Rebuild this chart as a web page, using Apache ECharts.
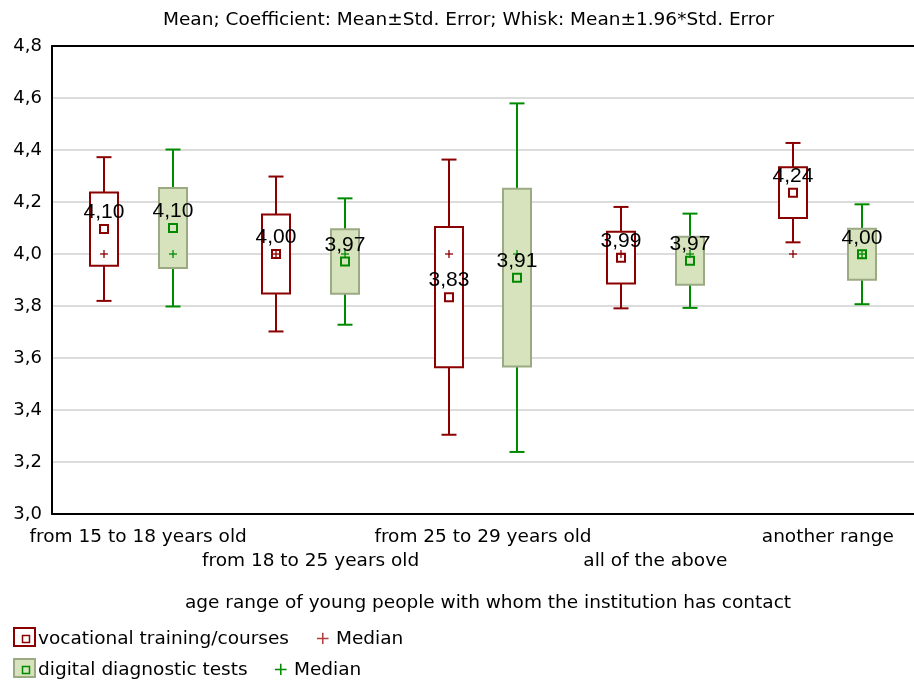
<!DOCTYPE html>
<html>
<head>
<meta charset="utf-8">
<script src="https://cdn.jsdelivr.net/npm/echarts@6/dist/echarts.min.js"></script>
<style>
  html, body { margin: 0; padding: 0; background: #fff; }
  #chart { width: 914px; height: 684px; }
</style>
</head>
<body>
<div id="chart"></div>
<script>
// categories on the x axis
var categories = [
  'from 15 to 18 years old',
  'from 18 to 25 years old',
  'from 25 to 29 years old',
  'all of the above',
  'another range'
];
// vocational training/courses : mean, std. error, median
var vocMean = [4.096, 4.000, 3.834, 3.986, 4.236];
var vocSE = [0.141, 0.152, 0.270, 0.0995, 0.0975];
var vocMedian = [4.0, 4.0, 4.0, 4.0, 4.0];
// digital diagnostic tests : mean, std. error, median
var digMean = [4.100, 3.971, 3.909, 3.974, 3.999];
var digSE = [0.154, 0.124, 0.342, 0.0925, 0.098];
var digMedian = [4.0, 4.0, 4.0, 4.0, 4.0];
// y axis ticks
var yTicks = [3.0, 3.2, 3.4, 3.6, 3.8, 4.0, 4.2, 4.4, 4.6, 4.8];

var FONT = 'DejaVu Sans';
var RED = '#8B0000';
var GREEN = '#008A00';

function fmt(v, d) {
  return v.toFixed(d).replace('.', ',');
}

function seriesData(mean, se, median) {
  return mean.map(function (m, i) {
    return [i, m, se[i], median[i]];
  });
}

/**
 * box = mean ± SE, whisker = mean ± 1.96*SE, square = mean, plus = median
 */
function makeRender(color, boxFill, boxStroke, side) {
  return function (params, api) {
    var idx = api.value(0);
    var mean = api.value(1);
    var se = api.value(2);
    var med = api.value(3);
    var band = api.size([1, 0])[0];
    var off = side * band * 0.2;
    var cx = Math.round(api.coord([idx, mean])[0] + off);
    var yMean = api.coord([idx, mean])[1];
    var yBoxTop = api.coord([idx, mean + se])[1];
    var yBoxBot = api.coord([idx, mean - se])[1];
    var yWTop = api.coord([idx, mean + 1.96 * se])[1];
    var yWBot = api.coord([idx, mean - 1.96 * se])[1];
    var yMed = api.coord([idx, med])[1];
    var boxW = 28, capW = 15, sq = 8, pl = 4;
    var ls = { stroke: color, lineWidth: 2 };
    return {
      type: 'group',
      children: [
        { type: 'line', shape: { x1: cx, y1: yWTop, x2: cx, y2: yWBot }, style: ls },
        { type: 'line', shape: { x1: cx - capW / 2, y1: yWTop, x2: cx + capW / 2, y2: yWTop }, style: ls },
        { type: 'line', shape: { x1: cx - capW / 2, y1: yWBot, x2: cx + capW / 2, y2: yWBot }, style: ls },
        {
          type: 'rect',
          shape: { x: cx - boxW / 2, y: yBoxTop, width: boxW, height: yBoxBot - yBoxTop },
          style: { fill: boxFill, stroke: boxStroke, lineWidth: 2 }
        },
        { type: 'line', shape: { x1: cx - pl, y1: yMed, x2: cx + pl, y2: yMed }, style: { stroke: color, lineWidth: 1.3 } },
        { type: 'line', shape: { x1: cx, y1: yMed - pl, x2: cx, y2: yMed + pl }, style: { stroke: color, lineWidth: 1.3 } },
        {
          type: 'rect',
          shape: { x: cx - sq / 2, y: yMean - sq / 2, width: sq, height: sq },
          style: { fill: 'none', stroke: color, lineWidth: 2 }
        },
        {
          type: 'text',
          style: {
            x: cx, y: yMean - 6,
            text: fmt(mean, 2),
            fill: '#000',
            font: '21px "Liberation Sans"',
            align: 'center',
            verticalAlign: 'bottom'
          }
        }
      ]
    };
  };
}

var chart = echarts.init(document.getElementById('chart'));

var legendFont = '18.5px "' + FONT + '"';

chart.setOption({
  animation: false,
  backgroundColor: '#fff',
  textStyle: { fontFamily: FONT },
  title: {
    text: 'Mean; Coefficient: Mean±Std. Error; Whisk: Mean±1.96*Std. Error',
    left: 158,
    top: 6,
    textStyle: { fontFamily: FONT, fontSize: 18.5, fontWeight: 'normal', color: '#000' }
  },
  grid: { left: 52, right: -9, top: 46, bottom: 170 },
  xAxis: [
    {
      type: 'category',
      data: categories,
      position: 'bottom',
      name: 'age range of young people with whom the institution has contact',
      nameLocation: 'middle',
      nameGap: 80,
      nameTextStyle: { fontFamily: FONT, fontSize: 18.5, color: '#000', padding: [0, 0, 0, 10] },
      axisLine: { lineStyle: { color: '#000', width: 2 } },
      axisTick: { inside: true, alignWithLabel: true, length: 5, lineStyle: { color: '#000', width: 1.5 } },
      axisLabel: {
        interval: 0,
        margin: 11,
        fontFamily: FONT,
        fontSize: 18.5,
        lineHeight: 24,
        color: '#000',
        formatter: function (v, i) { return i % 2 === 1 ? '\n' + v : v; }
      },
      splitLine: { show: false }
    },
    {
      type: 'category',
      data: categories,
      position: 'top',
      axisLine: { lineStyle: { color: '#000', width: 2 } },
      axisTick: { inside: true, alignWithLabel: true, length: 5, lineStyle: { color: '#000', width: 1.5 } },
      axisLabel: { show: false },
      splitLine: { show: false }
    }
  ],
  yAxis: {
    type: 'value',
    min: yTicks[0],
    max: yTicks[yTicks.length - 1],
    interval: 0.2,
    axisLine: { show: true, lineStyle: { color: '#000', width: 2 } },
    axisTick: { show: false },
    axisLabel: {
      margin: 10,
      fontFamily: FONT,
      fontSize: 18,
      color: '#000',
      formatter: function (v) { return fmt(v, 1); }
    },
    splitLine: { lineStyle: { color: '#dcdcdc', width: 2 } }
  },
  series: [
    {
      name: 'vocational training/courses',
      type: 'custom',
      xAxisIndex: 0,
      renderItem: makeRender(RED, '#fff', RED, -1),
      data: seriesData(vocMean, vocSE, vocMedian),
      z: 3
    },
    {
      name: 'digital diagnostic tests',
      type: 'custom',
      xAxisIndex: 0,
      renderItem: makeRender(GREEN, '#D6E3BC', '#9CAA84', 1),
      data: seriesData(digMean, digSE, digMedian),
      z: 3
    }
  ],
  graphic: [
    // legend row 1
    { type: 'rect', left: 13, top: 627, shape: { width: 21, height: 18 }, style: { fill: '#fff', stroke: RED, lineWidth: 2 } },
    { type: 'rect', left: 20, top: 633, shape: { width: 7, height: 7 }, style: { fill: 'none', stroke: RED, lineWidth: 1.5 } },
    { type: 'text', left: 38, top: 630, style: { text: 'vocational training/courses', font: legendFont, fill: '#000' } },
    { type: 'text', left: 315, top: 630, style: { text: '+', font: legendFont, fill: '#b04040' } },
    { type: 'text', left: 336, top: 630, style: { text: 'Median', font: legendFont, fill: '#000' } },
    // legend row 2
    { type: 'rect', left: 13, top: 658, shape: { width: 21, height: 18 }, style: { fill: '#D6E3BC', stroke: '#9CAA84', lineWidth: 2 } },
    { type: 'rect', left: 20, top: 664, shape: { width: 7, height: 7 }, style: { fill: 'none', stroke: GREEN, lineWidth: 1.5 } },
    { type: 'text', left: 38, top: 661, style: { text: 'digital diagnostic tests', font: legendFont, fill: '#000' } },
    { type: 'text', left: 273, top: 661, style: { text: '+', font: legendFont, fill: GREEN } },
    { type: 'text', left: 294, top: 661, style: { text: 'Median', font: legendFont, fill: '#000' } }
  ]
});
</script>
</body>
</html>
